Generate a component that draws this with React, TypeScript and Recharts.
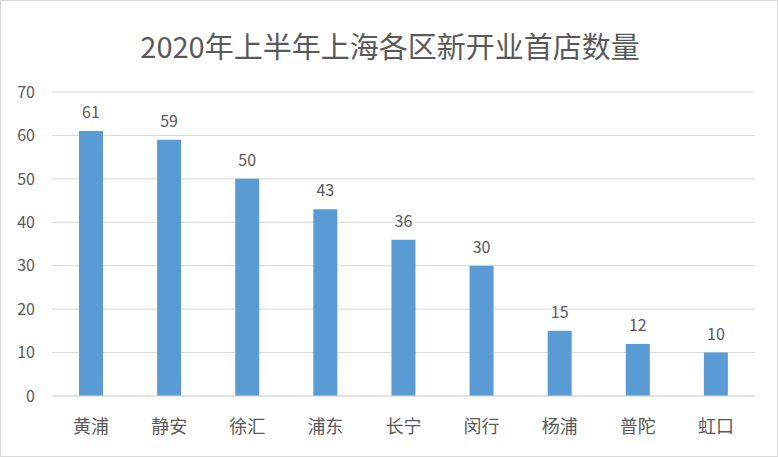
import React from 'react';
import { BarChart, Bar, XAxis, YAxis, CartesianGrid, LabelList } from 'recharts';

const districts = ['黄浦', '静安', '徐汇', '浦东', '长宁', '闵行', '杨浦', '普陀', '虹口'];
const storeCounts = [61, 59, 50, 43, 36, 30, 15, 12, 10];
const yTicks = [0, 10, 20, 30, 40, 50, 60, 70];

const font = '"Noto Sans CJK SC", "Microsoft YaHei", sans-serif';
const textColor = '#595959';

const App: React.FC = () => {
  const data = districts.map((name, i) => ({ name, value: storeCounts[i] }));

  return (
    <div
      style={{
        position: 'absolute',
        top: 0,
        left: 0,
        width: 778,
        height: 457,
        background: '#fff',
        boxSizing: 'border-box',
        border: '1px solid #d9d9d9',
        fontFamily: font,
      }}
    >
      {/* Title */}
      <div
        style={{
          position: 'absolute',
          top: 24,
          left: 0,
          width: 778,
          textAlign: 'center',
          fontSize: 29,
          color: textColor,
          lineHeight: '40px',
        }}
      >
        2020年上半年上海各区新开业首店数量
      </div>
      <BarChart
        width={776}
        height={455}
        data={data}
        margin={{ top: 91, right: 22, bottom: 20, left: 0 }}
        barSize={24}
        style={{ position: 'absolute', top: 0, left: 0 }}
      >
        <CartesianGrid vertical={false} stroke="#d9d9d9" />
        <XAxis
          dataKey="name"
          axisLine={{ stroke: '#d9d9d9' }}
          tickLine={false}
          height={40}
          tickMargin={18}
          tick={{ fill: textColor, fontSize: 18, fontFamily: font }}
        />
        <YAxis
          width={51}
          domain={[0, 70]}
          ticks={yTicks}
          axisLine={false}
          tickLine={false}
          tickMargin={11}
          tick={{ fill: textColor, fontSize: 16, fontFamily: font }}
        />
        <Bar dataKey="value" fill="#5b9bd5" isAnimationActive={false}>
          <LabelList
            dataKey="value"
            position="top"
            offset={13}
            style={{ fill: textColor, fontSize: 16, fontFamily: font }}
          />
        </Bar>
      </BarChart>
    </div>
  );
};

export default App;
